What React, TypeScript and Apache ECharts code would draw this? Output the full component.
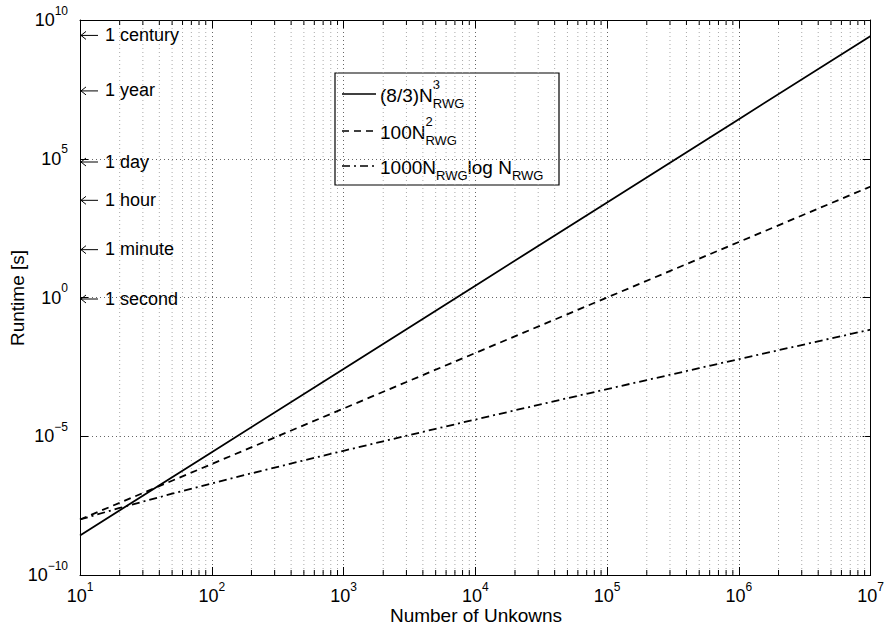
import React, { useEffect, useRef } from 'react';
import * as echarts from 'echarts';

const FONT = '"Liberation Sans", Arial, Helvetica, sans-serif';

// x positions (number of unknowns)
const xDecades = [10, 100, 1e3, 1e4, 1e5, 1e6, 1e7];
// (8/3) N^3 curve
const cubicValues = [2.67e-9, 2.67e-6, 2.67e-3, 2.67, 2.67e3, 2.67e6, 2.67e9];
// 100 N^2 curve
const quadValues = [1e-8, 1e-6, 1e-4, 1e-2, 1, 1e2, 1e4];
// 1000 N log N curve
const xNLogN = [10, 20, 50, 100, 200, 500, 1e3, 2e3, 5e3, 1e4, 2e4, 5e4, 1e5, 2e5, 5e5, 1e6, 2e6, 5e6, 1e7];
const nLogNValues = [1e-8, 2.6e-8, 8.5e-8, 2e-7, 4.6e-7, 1.35e-6, 3e-6, 6.6e-6, 1.85e-5, 4e-5, 8.6e-5, 2.35e-4, 5e-4, 1.06e-3, 2.85e-3, 6e-3, 1.26e-2, 3.35e-2, 7e-2];

// minor grid positions on x
const xMinorGrid = [
  20, 30, 40, 50, 60, 70, 80, 90,
  200, 300, 400, 500, 600, 700, 800, 900,
  2e3, 3e3, 4e3, 5e3, 6e3, 7e3, 8e3, 9e3,
  2e4, 3e4, 4e4, 5e4, 6e4, 7e4, 8e4, 9e4,
  2e5, 3e5, 4e5, 5e5, 6e5, 7e5, 8e5, 9e5,
  2e6, 3e6, 4e6, 5e6, 6e6, 7e6, 8e6, 9e6,
];

// time annotations
const annotationNames = ['1 century', '1 year', '1 day', '1 hour', '1 minute', '1 second'];
const annotationValues = [3.1536e9, 3.1536e7, 86400, 3600, 60, 1];
const annotationX = 10;

const xAxisTitle = 'Number of Unkowns';
const yAxisTitle = 'Runtime [s]';

const measure = (text: string, size: number) => {
  const c = document.createElement('canvas').getContext('2d');
  if (!c) return text.length * size * 0.55;
  c.font = `${size}px ${FONT}`;
  return c.measureText(text).width;
};

const expLabel = (v: number) => {
  const e = Math.round(Math.log10(v));
  const s = e < 0 ? '\u2212' + String(-e) : String(e);
  return `{b|10}{s|${s}}`;
};

const richTicks = {
  b: { fontSize: 18, fontFamily: FONT, color: '#000', lineHeight: 18 },
  s: { fontSize: 12, fontFamily: FONT, color: '#000', lineHeight: 12, padding: [0, 0, 19, 0] },
};

export default function App() {
  const ref = useRef<HTMLDivElement>(null);

  useEffect(() => {
    if (!ref.current) return;
    const chart = echarts.init(ref.current, undefined, { renderer: 'svg' });

    // Legend graphics
    const LB = 19;
    const LS = 13;
    const tx = 380;
    const rows = [
      { y: 94, dash: undefined as any, parts: [['(8/3)N', 'b'], ['3', 'sup', 'RWG']] },
      { y: 131, dash: [7, 5], parts: [['100N', 'b'], ['2', 'sup', 'RWG']] },
      { y: 166, dash: [8, 4, 2, 4], parts: [['1000N', 'b'], ['', 'sup', 'RWG'], ['log N', 'b'], ['', 'sup', 'RWG']] },
    ];
    const legendChildren: any[] = [
      {
        type: 'rect',
        shape: { x: 335, y: 73, width: 224, height: 112 },
        style: { fill: '#fff', stroke: '#000', lineWidth: 1.2 },
      },
    ];
    rows.forEach((r) => {
      legendChildren.push({
        type: 'line',
        shape: { x1: 342, y1: r.y, x2: 376, y2: r.y },
        style: { stroke: '#000', lineWidth: 1.7, lineDash: r.dash },
      });
      let x = tx;
      const base = r.y + 1;
      r.parts.forEach((p: any) => {
        if (p[1] === 'b') {
          legendChildren.push({
            type: 'text',
            style: { text: p[0], x, y: base, fontSize: LB, fontFamily: FONT, fill: '#000', align: 'left', verticalAlign: 'middle' },
          });
          x += measure(p[0], LB);
        } else {
          let w = 0;
          if (p[0]) {
            legendChildren.push({
              type: 'text',
              style: { text: p[0], x, y: base - 11, fontSize: LS, fontFamily: FONT, fill: '#000', align: 'left', verticalAlign: 'middle' },
            });
            w = Math.max(w, measure(p[0], LS));
          }
          legendChildren.push({
            type: 'text',
            style: { text: p[2], x, y: base + 8, fontSize: LS, fontFamily: FONT, fill: '#000', align: 'left', verticalAlign: 'middle' },
          });
          w = Math.max(w, measure(p[2], LS));
          x += w;
        }
      });
    });

    const axisCommon = {
      type: 'log',
      logBase: 10,
      axisLine: { show: true, lineStyle: { color: '#000', width: 1 } },
      axisTick: { show: true, inside: true, length: 8, lineStyle: { color: '#000', width: 1 } },
      minorTick: { show: false },
    };

    const option: any = {
      animation: false,
      textStyle: { fontFamily: FONT },
      grid: { left: 80, right: 14, top: 20, bottom: 55, containLabel: false },
      xAxis: [
        {
          ...axisCommon,
          min: 10,
          max: 1e7,
          interval: 1,
          position: 'bottom',
          axisLabel: { show: true, formatter: expLabel, rich: richTicks, margin: 12, color: '#000' },
          splitLine: { show: true, lineStyle: { color: '#666', width: 1, type: [1, 3] } },
        },
        {
          ...axisCommon,
          min: 10,
          max: 1e7,
          interval: 1,
          position: 'top',
          axisLabel: { show: false },
          splitLine: { show: false },
        },
      ],
      yAxis: [
        {
          ...axisCommon,
          min: 1e-10,
          max: 1e10,
          interval: 5,
          position: 'left',
          axisLabel: { show: true, formatter: expLabel, rich: richTicks, margin: 12, color: '#000' },
          splitLine: { show: true, lineStyle: { color: '#666', width: 1, type: [1, 3] } },
        },
        {
          ...axisCommon,
          min: 1e-10,
          max: 1e10,
          interval: 5,
          position: 'right',
          axisLabel: { show: false },
          splitLine: { show: false },
        },
      ],
      graphic: [
        {
          type: 'text',
          z: 100,
          style: { text: xAxisTitle, x: 476, y: 615, fontSize: 19, fontFamily: FONT, fill: '#000', align: 'center', verticalAlign: 'middle' },
        },
        {
          type: 'text',
          z: 100,
          x: 17,
          y: 298,
          rotation: Math.PI / 2,
          style: { text: yAxisTitle, x: 0, y: 0, fontSize: 19, fontFamily: FONT, fill: '#000', align: 'center', verticalAlign: 'middle' },
        },
        { type: 'group', z: 100, children: legendChildren },
      ],
      series: [
        {
          type: 'custom',
          silent: true,
          z: 1,
          xAxisIndex: 0,
          yAxisIndex: 0,
          encode: { x: 0, y: 1 },
          data: xMinorGrid.map((v) => [v, 1]),
          renderItem: (params: any, api: any) => {
            const x = api.value(0);
            const top = api.coord([x, 1e10]);
            const bot = api.coord([x, 1e-10]);
            return {
              type: 'group',
              children: [
                { type: 'line', shape: { x1: top[0], y1: top[1], x2: bot[0], y2: bot[1] }, style: { stroke: '#aaa', lineWidth: 1, lineDash: [1, 3] } },
                { type: 'line', shape: { x1: bot[0], y1: bot[1], x2: bot[0], y2: bot[1] - 5 }, style: { stroke: '#000', lineWidth: 1 } },
                { type: 'line', shape: { x1: top[0], y1: top[1], x2: top[0], y2: top[1] + 5 }, style: { stroke: '#000', lineWidth: 1 } },
              ],
            };
          },
        },
        {
          name: '(8/3)N^3',
          type: 'line',
          z: 5,
          symbol: 'none',
          data: xDecades.map((x, i) => [x, cubicValues[i]]),
          lineStyle: { color: '#000', width: 1.8, type: 'solid' },
        },
        {
          name: '100N^2',
          type: 'line',
          z: 5,
          symbol: 'none',
          data: xDecades.map((x, i) => [x, quadValues[i]]),
          lineStyle: { color: '#000', width: 1.8, type: [7, 5] },
        },
        {
          name: '1000NlogN',
          type: 'line',
          z: 5,
          symbol: 'none',
          data: xNLogN.map((x, i) => [x, nLogNValues[i]]),
          lineStyle: { color: '#000', width: 1.8, type: [8, 4, 2, 4] },
        },
        {
          type: 'custom',
          silent: true,
          z: 6,
          xAxisIndex: 0,
          yAxisIndex: 0,
          encode: { x: 0, y: 1 },
          data: annotationValues.map((v, i) => ({ name: annotationNames[i], value: [annotationX, v] })),
          renderItem: (params: any, api: any) => {
            const p = api.coord([api.value(0), api.value(1)]);
            const x0 = p[0] + 1;
            const y0 = p[1] + 1.5;
            return {
              type: 'group',
              children: [
                { type: 'line', shape: { x1: x0, y1: y0, x2: x0 + 17, y2: y0 }, style: { stroke: '#000', lineWidth: 1 } },
                { type: 'polyline', shape: { points: [[x0 + 5, y0 - 4], [x0, y0], [x0 + 5, y0 + 4]] }, style: { stroke: '#000', fill: 'none', lineWidth: 1 } },
                {
                  type: 'text',
                  style: {
                    text: annotationNames[params.dataIndex],
                    x: x0 + 24,
                    y: p[1] + 1,
                    fontSize: 18,
                    fontFamily: FONT,
                    fill: '#000',
                    align: 'left',
                    verticalAlign: 'middle',
                  },
                },
              ],
            };
          },
        },
      ],
    };

    chart.setOption(option);
    return () => chart.dispose();
  }, []);

  return <div ref={ref} style={{ width: 887, height: 630, position: 'absolute', left: 0, top: 0, background: '#fff' }} />;
}
